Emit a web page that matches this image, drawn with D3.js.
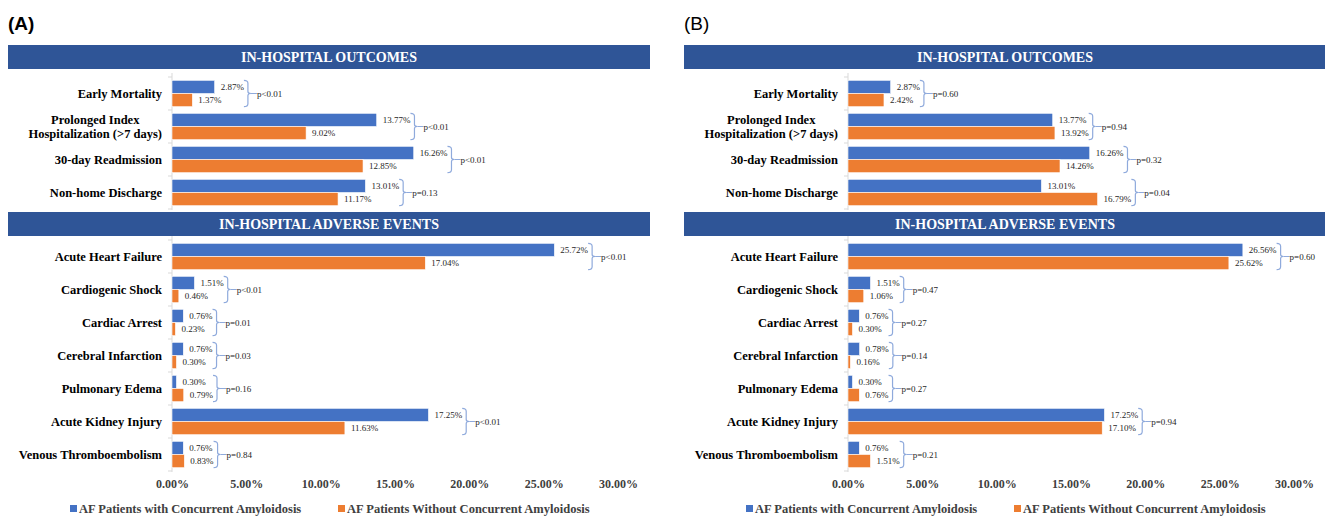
<!DOCTYPE html>
<html>
<head>
<meta charset="utf-8">
<script src="https://cdn.jsdelivr.net/npm/d3@7"></script>
<style>
  body { margin: 0; background: #fff; }
  svg { display: block; }
</style>
</head>
<body>
<div id="chart"></div>
<script>
//Width and height
var w = 1325;
var h = 517;

//Categories
var outcomeCats = ["Early Mortality", "Prolonged Index|Hospitalization (>7 days)", "30-day Readmission", "Non-home Discharge"];
var eventCats = ["Acute Heart Failure", "Cardiogenic Shock", "Cardiac Arrest", "Cerebral Infarction",
                 "Pulmonary Edema", "Acute Kidney Injury", "Venous Thromboembolism"];

//Series names
var seriesNames = ["AF Patients with Concurrent Amyloidosis", "AF Patients Without Concurrent Amyloidosis"];

//Panel A values (%)
var aOutcomesWith = [2.87, 13.77, 16.26, 13.01];
var aOutcomesWithout = [1.37, 9.02, 12.85, 11.17];
var aOutcomesP = ["p<0.01", "p<0.01", "p<0.01", "p=0.13"];
var aEventsWith = [25.72, 1.51, 0.76, 0.76, 0.30, 17.25, 0.76];
var aEventsWithout = [17.04, 0.46, 0.23, 0.30, 0.79, 11.63, 0.83];
var aEventsP = ["p<0.01", "p<0.01", "p=0.01", "p=0.03", "p=0.16", "p<0.01", "p=0.84"];

//Panel B values (%)
var bOutcomesWith = [2.87, 13.77, 16.26, 13.01];
var bOutcomesWithout = [2.42, 13.92, 14.26, 16.79];
var bOutcomesP = ["p=0.60", "p=0.94", "p=0.32", "p=0.04"];
var bEventsWith = [26.56, 1.51, 0.76, 0.78, 0.30, 17.25, 0.76];
var bEventsWithout = [25.62, 1.06, 0.30, 0.16, 0.76, 17.10, 1.51];
var bEventsP = ["p=0.60", "p=0.47", "p=0.27", "p=0.14", "p=0.27", "p=0.94", "p=0.21"];

//Axis ticks
var tickValues = [0, 5, 10, 15, 20, 25, 30];

var colors = ["#4472c4", "#ed7d31"];
var serif = "'Liberation Serif', 'Times New Roman', serif";

var svg = d3.select("#chart")
  .append("svg")
  .attr("width", w)
  .attr("height", h);

//Build rows from the arrays
function makeRows(cats, withVals, withoutVals, pvals) {
  return cats.map(function(c, i) {
    return { cat: c, vals: [withVals[i], withoutVals[i]], p: pvals[i] };
  });
}

function drawSection(parent, xScale, rows, title, headerX0, headerX1, headerY, top, bottom) {
  var g = parent.append("g").attr("class", "section");

  //Header band
  g.append("rect")
    .attr("x", headerX0)
    .attr("y", headerY)
    .attr("width", headerX1 - headerX0)
    .attr("height", 24)
    .attr("fill", "#2f5597");
  g.append("text")
    .attr("x", (headerX0 + headerX1) / 2)
    .attr("y", headerY + 17)
    .attr("text-anchor", "middle")
    .attr("fill", "#fff")
    .style("font-family", serif)
    .style("font-weight", "bold")
    .style("font-size", "14px")
    .text(title);

  var yScale = d3.scaleBand()
    .domain(rows.map(function(d) { return d.cat; }))
    .range([top, bottom])
    .padding(0);

  var inner = d3.scaleBand()
    .domain([0, 1])
    .range([0, yScale.bandwidth()])
    .paddingInner(0)
    .paddingOuter(0.25);

  var x0 = xScale(0);

  //Category axis line with boundary ticks
  g.append("line")
    .attr("x1", x0).attr("x2", x0)
    .attr("y1", top - 4).attr("y2", bottom + 1)
    .attr("stroke", "#d9d9d9");
  rows.forEach(function(d) {
    var yy = yScale(d.cat);
    g.append("line")
      .attr("x1", x0 - 4).attr("x2", x0)
      .attr("y1", yy).attr("y2", yy)
      .attr("stroke", "#d9d9d9");
  });
  g.append("line")
    .attr("x1", x0 - 4).attr("x2", x0)
    .attr("y1", bottom).attr("y2", bottom)
    .attr("stroke", "#d9d9d9");

  var groups = g.selectAll("g.row")
    .data(rows)
    .enter()
    .append("g")
    .attr("class", "row")
    .attr("transform", function(d) { return "translate(0," + yScale(d.cat) + ")"; });

  var center = yScale.bandwidth() / 2;

  //Category labels (can be two lines, centered as a block, right edge at x0 - 10)
  groups.each(function(d) {
    var lines = d.cat.split("|");
    var t = d3.select(this).append("text")
      .style("font-family", serif)
      .style("font-weight", "bold")
      .style("font-size", "12.5px")
      .attr("fill", "#000");
    lines.forEach(function(line, k) {
      t.append("tspan")
        .attr("y", center + 4 + (k - (lines.length - 1) / 2) * 14)
        .text(line);
    });
    var maxW = 0;
    t.selectAll("tspan").each(function() {
      maxW = Math.max(maxW, this.getComputedTextLength());
    });
    var right = x0 - 10;
    if (lines.length > 1) {
      t.attr("text-anchor", "middle");
      t.selectAll("tspan").attr("x", right - maxW / 2);
    } else {
      t.attr("text-anchor", "end");
      t.selectAll("tspan").attr("x", right);
    }
  });

  //Bars
  groups.selectAll("rect")
    .data(function(d) { return d.vals; })
    .enter()
    .append("rect")
    .attr("x", x0)
    .attr("y", function(v, i) { return inner(i); })
    .attr("width", function(v) { return xScale(v) - x0; })
    .attr("height", inner.bandwidth())
    .attr("fill", function(v, i) { return colors[i]; })
    .attr("stroke", "#fff")
    .attr("stroke-width", 0.6);

  //Value labels, brace and p value
  groups.each(function(d) {
    var row = d3.select(this);
    var maxEnd = 0;
    d.vals.forEach(function(v, i) {
      var t = row.append("text")
        .attr("x", xScale(v) + 6)
        .attr("y", inner(i) + inner.bandwidth() / 2 + 3)
        .style("font-family", serif)
        .style("font-size", "9px")
        .attr("fill", "#262626")
        .text(v.toFixed(2) + "%");
      maxEnd = Math.max(maxEnd, xScale(v) + 6 + t.node().getComputedTextLength());
    });

    var bx = maxEnd + 4;
    var y0 = inner(0);
    var y1 = inner(1) + inner.bandwidth();
    var ym = (y0 + y1) / 2;
    row.append("path")
      .attr("d", "M" + (bx - 4) + "," + y0 +
        " Q" + bx + "," + y0 + " " + bx + "," + (y0 + 3) +
        " L" + bx + "," + (ym - 2) +
        " Q" + bx + "," + ym + " " + (bx + 3) + "," + ym +
        " Q" + bx + "," + ym + " " + bx + "," + (ym + 2) +
        " L" + bx + "," + (y1 - 3) +
        " Q" + bx + "," + y1 + " " + (bx - 4) + "," + y1)
      .attr("fill", "none")
      .attr("stroke", "#8faadc")
      .attr("stroke-width", 1.2);
    row.append("line")
      .attr("x1", bx + 3).attr("x2", bx + 9)
      .attr("y1", ym).attr("y2", ym)
      .attr("stroke", "#8faadc")
      .attr("stroke-width", 1);
    row.append("text")
      .attr("x", bx + 9)
      .attr("y", ym + 3)
      .style("font-family", serif)
      .style("font-size", "9px")
      .attr("fill", "#262626")
      .text(d.p);
  });
}

function drawPanel(offset, label, labelBold, outcomes, events) {
  var g = svg.append("g").attr("transform", "translate(" + offset + ",0)");

  g.append("text")
    .attr("x", 8)
    .attr("y", 30)
    .style("font-family", "'Liberation Sans', Arial, sans-serif")
    .style("font-weight", labelBold ? "bold" : "normal")
    .style("font-size", "19px")
    .text(label);

  var xScale = d3.scaleLinear()
    .domain([0, 30])
    .range([172, 618]);

  drawSection(g, xScale, outcomes, "IN-HOSPITAL OUTCOMES", 8, 650, 45, 77, 209);
  drawSection(g, xScale, events, "IN-HOSPITAL ADVERSE EVENTS", 8, 650, 212, 240, 471);

  //X axis
  var xAxis = d3.axisBottom()
    .scale(xScale)
    .tickValues(tickValues)
    .tickSize(0)
    .tickPadding(0)
    .tickFormat(function(d) { return d.toFixed(2) + "%"; });

  var ax = g.append("g")
    .attr("class", "axis x")
    .attr("transform", "translate(0,479)")
    .call(xAxis);
  ax.select(".domain").remove();
  ax.selectAll("text")
    .style("font-family", serif)
    .style("font-weight", "bold")
    .style("font-size", "12px")
    .attr("fill", "#404040");

  //Legend
  var legendX = [70, 338];
  seriesNames.forEach(function(name, i) {
    g.append("rect")
      .attr("x", legendX[i])
      .attr("y", 505)
      .attr("width", 7)
      .attr("height", 7)
      .attr("fill", colors[i]);
    g.append("text")
      .attr("x", legendX[i] + 9)
      .attr("y", 513)
      .style("font-family", serif)
      .style("font-weight", "bold")
      .style("font-size", "12.5px")
      .attr("fill", "#404040")
      .text(name);
  });
}

drawPanel(0, "(A)", true,
  makeRows(outcomeCats, aOutcomesWith, aOutcomesWithout, aOutcomesP),
  makeRows(eventCats, aEventsWith, aEventsWithout, aEventsP));

drawPanel(676, "(B)", false,
  makeRows(outcomeCats, bOutcomesWith, bOutcomesWithout, bOutcomesP),
  makeRows(eventCats, bEventsWith, bEventsWithout, bEventsP));
</script>
</body>
</html>
